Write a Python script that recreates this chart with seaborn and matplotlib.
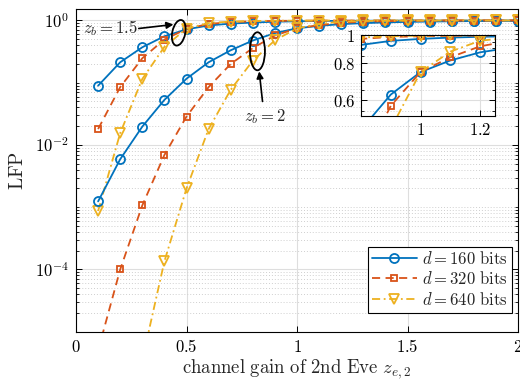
import numpy as np
import pandas as pd
import matplotlib
matplotlib.use("Agg")
import matplotlib.pyplot as plt
import seaborn as sns
from matplotlib.patches import Ellipse
import matplotlib.transforms as mtransforms
from matplotlib.ticker import FixedLocator, LogLocator, NullLocator, NullFormatter

# ---------------- data ----------------
x_gain = [0.1, 0.2, 0.3, 0.4, 0.5, 0.6, 0.7, 0.8, 0.9, 1.0,
          1.1, 1.2, 1.3, 1.4, 1.5, 1.6, 1.7, 1.8, 1.9, 2.0]

# z_b = 1.5
lfp_160_zb15 = [0.0895, 0.213, 0.371, 0.558, 0.72, 0.83, 0.89, 0.925, 0.955, 0.97,
                0.98, 0.986, 0.99, 0.993, 0.995, 0.996, 0.997, 0.998, 0.998, 0.999]
lfp_320_zb15 = [0.018, 0.085, 0.247, 0.494, 0.73, 0.88, 0.94, 0.97, 0.985, 0.99,
                0.994, 0.996, 0.997, 0.998, 0.999, 0.999, 0.999, 1.0, 1.0, 1.0]
lfp_640_zb15 = [8.7e-4, 0.0155, 0.115, 0.376, 0.74, 0.91, 0.96, 0.98, 0.99, 0.995,
                0.997, 0.998, 0.999, 0.999, 1.0, 1.0, 1.0, 1.0, 1.0, 1.0]

# z_b = 2
lfp_160_zb2 = [1.24e-3, 5.9e-3, 0.0197, 0.053, 0.116, 0.213, 0.332, 0.476, 0.627, 0.748,
               0.819, 0.873, 0.905, 0.93, 0.948, 0.96, 0.97, 0.977, 0.983, 0.987]
lfp_320_zb2 = [5e-6, 1.0e-4, 1.07e-3, 6.9e-3, 0.0286, 0.085, 0.2, 0.36, 0.574, 0.748,
               0.84, 0.915, 0.955, 0.975, 0.986, 0.992, 0.995, 0.997, 0.998, 0.999]
lfp_640_zb2 = [np.nan, np.nan, 3.5e-6, 1.35e-4, 2.0e-3, 0.018, 0.077, 0.226, 0.48, 0.748,
               0.878, 0.956, 0.98, 0.99, 0.995, 0.997, 0.998, 0.999, 0.999, 1.0]

legend_labels = [r"$d = 160\ \mathrm{bits}$", r"$d = 320\ \mathrm{bits}$", r"$d = 640\ \mathrm{bits}$"]
x_ticks = [0, 0.5, 1, 1.5, 2]
x_ticklabels = [r"$0$", r"$0.5$", r"$1$", r"$1.5$", r"$2$"]
y_ticks = [1e-4, 1e-2, 1]
y_ticklabels = [r"$10^{-4}$", r"$10^{-2}$", r"$10^{0}$"]
inset_x_ticks = [1.0, 1.2]
inset_x_ticklabels = [r"$1$", r"$1.2$"]
inset_y_ticks = [0.6, 0.8, 1.0]
inset_y_ticklabels = [r"$0.6$", r"$0.8$", r"$1$"]

# ---------------- style ----------------
sns.set_theme(style="ticks")
plt.rcParams.update({
    "font.family": ["DejaVu Serif"],
    "mathtext.fontset": "cm",
    "xtick.direction": "in", "ytick.direction": "in",
    "xtick.top": True, "ytick.right": True,
    "axes.edgecolor": "black", "axes.linewidth": 0.8,
    "xtick.color": "black", "ytick.color": "black",
    "xtick.major.size": 4, "ytick.major.size": 4,
    "xtick.minor.size": 2, "ytick.minor.size": 2,
    "xtick.major.width": 0.7, "ytick.major.width": 0.7,
    "ytick.minor.width": 0.6,
})

C_BLUE, C_RED, C_YEL = "#0072BD", "#D95319", "#EDB120"
styles = [
    dict(color=C_BLUE, linestyle="-", marker="o", markersize=6.5),
    dict(color=C_RED, linestyle=(0, (4.5, 3)), marker="s", markersize=5.0),
    dict(color=C_YEL, linestyle=(0, (4.5, 2, 1, 2)), marker="v", markersize=6.5),
]
groups = [
    [lfp_160_zb15, lfp_320_zb15, lfp_640_zb15],
    [lfp_160_zb2, lfp_320_zb2, lfp_640_zb2],
]


def draw(ax, y, st, lw=1.3):
    df = pd.DataFrame({"x": x_gain, "y": y}).dropna()
    sns.lineplot(data=df, x="x", y="y", ax=ax, estimator=None, sort=False,
                 color=st["color"], linestyle=st["linestyle"], marker=st["marker"],
                 markersize=st["markersize"], markerfacecolor="none",
                 markeredgecolor=st["color"], markeredgewidth=1.3, linewidth=lw,
                 legend=False)
    return ax.lines[-1]


fig = plt.figure(figsize=(5.2, 3.8), dpi=100)
ax = fig.add_axes([76 / 520, (380 - 331.7) / 380, 442 / 520, 322.2 / 380])

handles = []
for g, series in enumerate(groups):
    for s, y in enumerate(series):
        h = draw(ax, y, styles[s])
        if g == 0:
            handles.append(h)

ax.set_yscale("log")
ax.set_xlim(0, 2)
ax.set_ylim(1e-5, 1.5)
ax.xaxis.set_major_locator(FixedLocator(x_ticks))
ax.set_xticklabels(x_ticklabels, fontsize=12)
ax.xaxis.set_minor_locator(NullLocator())
ax.yaxis.set_major_locator(FixedLocator(y_ticks))
ax.set_yticklabels(y_ticklabels, fontsize=12)
ax.yaxis.set_minor_locator(LogLocator(base=10, subs=np.arange(1, 10), numticks=20))
ax.yaxis.set_minor_formatter(NullFormatter())
ax.grid(which="major", color="#dedede", linestyle="-", linewidth=0.8)
ax.grid(which="minor", axis="y", color="#cfcfcf", linestyle=(0, (1, 2)), linewidth=0.7)
ax.set_axisbelow(True)
ax.tick_params(axis="both", which="major", pad=5)
ax.set_xlabel(r"$\mathrm{channel\ gain\ of\ 2nd\ Eve}\ z_{e,2}$", fontsize=13.5, labelpad=1)
ax.set_ylabel(r"$\mathrm{LFP}$", fontsize=14, labelpad=6)

leg = ax.legend(handles, legend_labels, loc="lower right",
                bbox_to_anchor=(0.986, 0.059), borderaxespad=0, fontsize=12,
                frameon=True, fancybox=False, edgecolor="black", framealpha=1,
                handlelength=2.7, handletextpad=0.3,
                borderpad=0.25, labelspacing=0.2)
leg.get_frame().set_linewidth(0.8)

# annotations: ellipses + arrows
def ellipse_at(xd, yd, w_in, h_in, angle=0):
    tr = fig.dpi_scale_trans + mtransforms.ScaledTranslation(xd, yd, ax.transData)
    e = Ellipse((0, 0), w_in, h_in, angle=angle, fill=False, edgecolor="black",
                linewidth=1.3, transform=tr, zorder=5)
    ax.add_patch(e)

ellipse_at(0.465, 0.634, 0.13, 0.26, angle=-12)
ellipse_at(0.821, 0.32, 0.15, 0.38)

ax.text(0.282, 0.743, r"$z_b = 1.5$", fontsize=12, ha="right", va="center", zorder=6)
ax.annotate("", xy=(0.441, 0.862), xytext=(0.284, 0.743),
            arrowprops=dict(arrowstyle="-|>", color="black", lw=1.2,
                            shrinkA=0, shrinkB=0, mutation_scale=10), zorder=6)
ax.text(0.855, 0.029, r"$z_b = 2$", fontsize=12, ha="center", va="center", zorder=6)
ax.annotate("", xy=(0.829, 0.152), xytext=(0.844, 0.05),
            arrowprops=dict(arrowstyle="-|>", color="black", lw=1.2,
                            shrinkA=0, shrinkB=0, mutation_scale=10), zorder=6)

# ---------------- inset ----------------
axi = fig.add_axes([361 / 520, (380 - 116) / 380, 134 / 520, 81 / 380])
for series in groups:
    for s, y in enumerate(series):
        draw(axi, y, styles[s])
axi.set_yscale("log")
axi.set_xlim(0.8, 1.25)
axi.set_ylim(0.53, 1.0)
axi.xaxis.set_major_locator(FixedLocator(inset_x_ticks))
axi.set_xticklabels(inset_x_ticklabels, fontsize=12)
axi.xaxis.set_minor_locator(NullLocator())
axi.yaxis.set_major_locator(FixedLocator(inset_y_ticks))
axi.set_yticklabels(inset_y_ticklabels, fontsize=12)
axi.yaxis.set_minor_locator(FixedLocator([0.55, 0.65, 0.7, 0.75, 0.85, 0.9, 0.95]))
axi.yaxis.set_minor_formatter(NullFormatter())
axi.grid(which="major", color="#dedede", linestyle="-", linewidth=0.8)
axi.grid(which="minor", axis="y", color="#cfcfcf", linestyle=(0, (1, 2)), linewidth=0.7)
axi.set_axisbelow(True)
axi.set_xlabel("")
axi.set_ylabel("")
axi.tick_params(axis="both", which="major", pad=4)

fig.savefig("out.png", dpi=100)
